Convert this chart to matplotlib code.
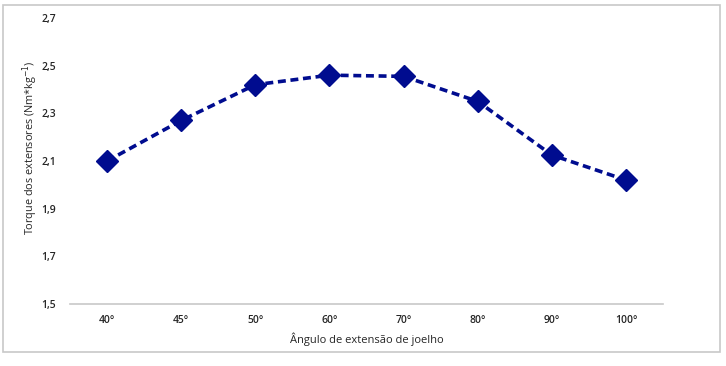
import matplotlib.pyplot as plt
from matplotlib.patches import Rectangle

# ---- Data
angles = ["40°", "45°", "50°", "60°", "70°", "80°", "90°", "100°"]
torque = [2.10, 2.27, 2.42, 2.46, 2.455, 2.35, 2.125, 2.02]
yticks = [1.5, 1.7, 1.9, 2.1, 2.3, 2.5, 2.7]
ytick_labels = ["1,5", "1,7", "1,9", "2,1", "2,3", "2,5", "2,7"]

plt.rcParams['font.family'] = ['Open Sans', 'DejaVu Sans']

fig = plt.figure(figsize=(7.26, 3.66), dpi=100)
ax = fig.add_axes([0.0964, 0.169, 0.817, 0.782])

x = list(range(len(angles)))
ax.plot(x, torque, color="#000C8F", linestyle=(0, (2.2, 1.3)), linewidth=2.6,
        marker="D", markersize=11, markerfacecolor="#000C8F", markeredgecolor="#000C8F")

ax.set_xlim(-0.5, len(angles) - 0.5)
ax.set_ylim(1.5, 2.7)
ax.set_xticks(x)
ax.set_xticklabels(angles, fontsize=7.5, color="#262626", fontweight="semibold")
ax.set_yticks(yticks)
ax.set_yticklabels(ytick_labels, fontsize=7.5, color="#262626", fontweight="semibold")
ax.tick_params(axis="x", length=0, pad=8)
ax.tick_params(axis="y", length=0, pad=10)

for s in ["top", "right", "left"]:
    ax.spines[s].set_visible(False)
ax.spines["bottom"].set_color("#C8C8C8")
ax.spines["bottom"].set_linewidth(1.2)

ax.set_xlabel("Ângulo de extensão de joelho", fontsize=8, color="#262626")
ax.set_ylabel("Torque dos extensores (Nm*kg$^{-1}$)", fontsize=7.8, color="#262626")
ax.xaxis.set_label_coords(0.5, -0.10)
ax.yaxis.set_label_coords(-0.05, 0.545)

# chart frame
fig.patches.append(Rectangle((3 / 726, 1 - 352 / 366), 717 / 726, 347 / 366,
                             transform=fig.transFigure, fill=False,
                             edgecolor="#C8C8C8", linewidth=1.2))

fig.savefig("out.png", dpi=100)
